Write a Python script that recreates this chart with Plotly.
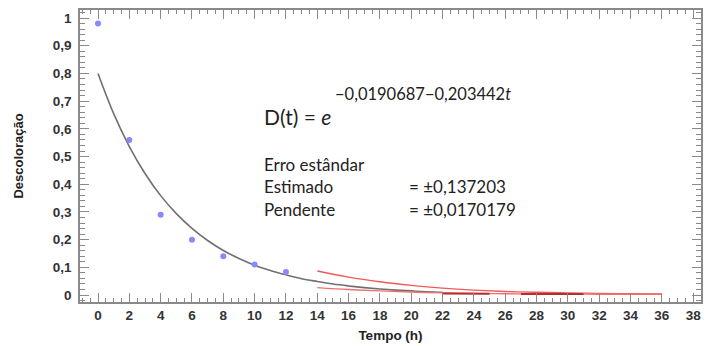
import plotly.graph_objects as go

# Observed data
t_obs = [0, 2, 4, 6, 8, 10, 12]
d_obs = [0.98, 0.56, 0.29, 0.20, 0.14, 0.11, 0.083]

# Fitted curve (grey)
t_fit = [0, 1, 2, 3, 4, 5, 6, 7, 8, 9, 10, 11, 12, 13, 14, 15, 16, 17, 18, 19, 20, 21, 22]
d_fit = [0.80, 0.655, 0.536, 0.439, 0.359, 0.294, 0.241, 0.197, 0.161, 0.132, 0.108,
         0.089, 0.073, 0.059, 0.049, 0.040, 0.033, 0.027, 0.022, 0.018, 0.015, 0.012, 0.010]

# Upper red band
t_up = [14, 16, 18, 20, 22, 24, 26, 28, 30, 32, 34, 36]
d_up = [0.087, 0.065, 0.048, 0.035, 0.025, 0.018, 0.013, 0.010, 0.008, 0.006, 0.005, 0.004]

# Lower red band
t_lo = [14, 16, 18, 20, 22, 24, 26, 28, 30, 32, 34, 36]
d_lo = [0.027, 0.020, 0.015, 0.011, 0.008, 0.006, 0.005, 0.004, 0.004, 0.003, 0.003, 0.003]

# Dark red segments
t_dk1 = [22, 25]
d_dk1 = [0.006, 0.005]
t_dk2 = [27, 31]
d_dk2 = [0.004, 0.004]

x_ticks = list(range(0, 39, 2))
y_ticks = [0, 0.1, 0.2, 0.3, 0.4, 0.5, 0.6, 0.7, 0.8, 0.9, 1]
y_labels = ["0", "0,1", "0,2", "0,3", "0,4", "0,5", "0,6", "0,7", "0,8", "0,9", "1"]

fig = go.Figure()
fig.add_trace(go.Scatter(x=t_fit, y=d_fit, mode="lines",
                         line=dict(color="#707070", width=1.6, shape="spline")))
fig.add_trace(go.Scatter(x=t_up, y=d_up, mode="lines",
                         line=dict(color="#f05a5a", width=1.4, shape="spline")))
fig.add_trace(go.Scatter(x=t_lo, y=d_lo, mode="lines",
                         line=dict(color="#f07070", width=1.4, shape="spline")))
fig.add_trace(go.Scatter(x=t_dk1, y=d_dk1, mode="lines",
                         line=dict(color="#b03030", width=2)))
fig.add_trace(go.Scatter(x=t_dk2, y=d_dk2, mode="lines",
                         line=dict(color="#b03030", width=2)))
fig.add_trace(go.Scatter(x=t_obs, y=d_obs, mode="markers",
                         marker=dict(color="#8888ff", size=6)))

axis_common = dict(showgrid=False, zeroline=False, showline=True, linecolor="#8a8a8a",
                   linewidth=1.5, mirror="allticks", ticks="inside", tickcolor="#8a8a8a",
                   ticklen=9, tickwidth=1.2,
                   tickfont=dict(family="Arial", size=13.5, color="#333333", weight="bold"))

fig.update_xaxes(**axis_common, range=[-1.15, 38.5], tickvals=x_ticks,
                 minor=dict(dtick=0.5, tick0=0, ticks="inside", ticklen=4,
                            tickcolor="#8a8a8a", tickwidth=1),
                 title=dict(text="Tempo (h)", standoff=9,
                            font=dict(family="Arial", size=13.5, color="#222222", weight="bold")))
fig.update_yaxes(**axis_common, range=[-0.025, 1.029], tickvals=y_ticks, ticktext=y_labels,
                 ticklabelstandoff=4,
                 minor=dict(dtick=0.02, tick0=0, ticks="inside", ticklen=5,
                            tickcolor="#8a8a8a", tickwidth=1),
                 title=dict(text="Descoloração", standoff=26,
                            font=dict(family="Arial", size=13, color="#222222", weight="bold")))

font_txt = dict(family="Lato", size=17, color="#222222")
ann = [
    dict(x=10.45, y=0.643, text="D(t) = <i>e</i>",
         font=dict(family="Lato", size=21, color="#222222")),
    dict(x=15.03, y=0.725, text="−0,0190687−0,203442<i>t</i>",
         font=dict(family="Lato", size=16.5, color="#222222")),
    dict(x=10.45, y=0.473, text="Erro estândar", font=font_txt),
    dict(x=10.45, y=0.393, text="Estimado", font=font_txt),
    dict(x=10.45, y=0.31, text="Pendente", font=font_txt),
    dict(x=19.75, y=0.393, text="= ±0,137203", font=font_txt),
    dict(x=19.75, y=0.31, text="= ±0,0170179", font=font_txt),
]
for a in ann:
    fig.add_annotation(xref="x", yref="y", xanchor="left", yanchor="middle",
                       showarrow=False, **a)

fig.update_layout(width=707, height=346, margin=dict(l=80, r=4, t=10, b=44),
                  plot_bgcolor="white", paper_bgcolor="white", showlegend=False)
fig.write_html("out.html")
